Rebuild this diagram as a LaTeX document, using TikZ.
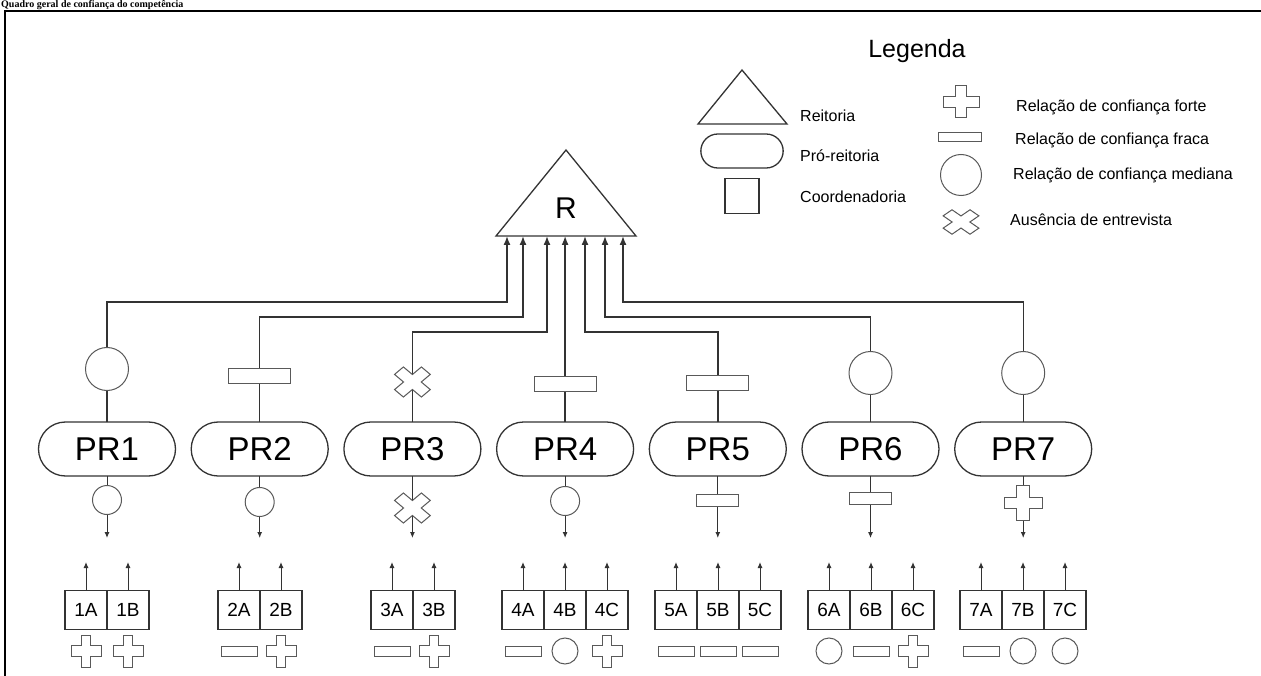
\documentclass[tikz,border=0pt]{standalone}
\usepackage{fontspec}
\setmainfont{Liberation Sans}
\newfontfamily\titlefont{Liberation Serif}
\usetikzlibrary{calc, positioning, shapes.misc, arrows.meta}

\tikzset{
    link/.style={draw=black!80, line width=1.4pt},
    bigup/.style={link, -{Latex[length=9pt, width=7pt]}},
    tinyarrow/.style={link, line width=1pt, -{Latex[length=6pt, width=5pt]}},
    shp/.style={draw=black!80, line width=1.3pt, fill=white},
    symb/.style={draw=black!65, line width=1pt, fill=white, inner sep=0pt, outer sep=0pt},
    pro/.style={shp, rounded rectangle, minimum width=137pt, minimum height=54pt,
        inner sep=0pt, outer sep=0pt, text height=23.6pt, text depth=0pt,
        font=\fontsize{33}{35}\selectfont},
    cell/.style={shp, minimum width=42pt, minimum height=39pt, inner sep=0pt,
        outer sep=0pt, text height=13.6pt, text depth=0pt, font=\fontsize{19}{22}\selectfont},
    med/.style={symb, circle, minimum size=#1},
    fraca/.style 2 args={symb, rectangle, minimum width=#1, minimum height=#2},
    lgtext/.style={anchor=west, inner sep=0pt, font=\fontsize{16}{19}\selectfont},
    forte/.pic={\draw[black!65, line width=1pt, fill=white]
        (-.33,1) -- (.33,1) -- (.33,.33) -- (1,.33) -- (1,-.33) -- (.33,-.33)
        -- (.33,-1) -- (-.33,-1) -- (-.33,-.33) -- (-1,-.33) -- (-1,.33) -- (-.33,.33) -- cycle;},
}

\begin{document}
\begin{tikzpicture}[x=1pt, y=-1pt]
    \useasboundingbox (0,0) rectangle (1261,676);

    % frame and title
    \draw[line width=1.8pt] (5,676) -- (5,11) -- (1261,11);
    \node[anchor=base west, inner sep=0pt, font=\titlefont\bfseries\fontsize{10}{12}\selectfont]
        (title) at (1,8) {Quadro geral de confiança do competência};

    % reitoria
    \draw[shp] (496,236) -- (566,150) -- (636,236) -- cycle;
    \node[font=\fontsize{30}{34}\selectfont] (R) at (566,208) {R};
    \coordinate (r1) at (507,236);
    \coordinate (r2) at (523,236);
    \coordinate (r3) at (547,236);
    \coordinate (r4) at (566,236);
    \coordinate (r5) at (585,236);
    \coordinate (r6) at (605,236);
    \coordinate (r7) at (623,236);

    % pro-reitorias
    \node[pro] (PR1) at (107,449) {PR1};
    \node[pro, right=15.7pt of PR1] (PR2) {PR2};
    \node[pro, right=15.7pt of PR2] (PR3) {PR3};
    \node[pro, right=15.7pt of PR3] (PR4) {PR4};
    \node[pro, right=15.7pt of PR4] (PR5) {PR5};
    \node[pro, right=15.7pt of PR5] (PR6) {PR6};
    \node[pro, right=15.7pt of PR6] (PR7) {PR7};

    \draw[bigup] (PR1.north) |- (r1 |- 0,302) -- (r1);
    \draw[bigup] (PR2.north) |- (r2 |- 0,317) -- (r2);
    \draw[bigup] (PR3.north) |- (r3 |- 0,332) -- (r3);
    \draw[bigup] (PR4.north) -- (PR4.north |- r4);
    \draw[bigup] (PR5.north) |- (r5 |- 0,332) -- (r5);
    \draw[bigup] (PR6.north) |- (r6 |- 0,317) -- (r6);
    \draw[bigup] (PR7.north) |- (r7 |- 0,302) -- (r7);

    \node[med=43pt] (u1) at (PR1.north |- 0,369) {};
    \node[fraca={62pt}{15pt}] (u2) at (PR2.north |- 0,376) {};
    \pic[xscale=19, yscale=16, rotate=45] at (PR3.north |- 0,382) {forte};
    \node[fraca={62pt}{15pt}] (u4) at (PR4.north |- 0,384) {};
    \node[fraca={62pt}{15pt}] (u5) at (PR5.north |- 0,383) {};
    \node[med=43pt] (u6) at (PR6.north |- 0,373) {};
    \node[med=43pt] (u7) at (PR7.north |- 0,373) {};

    % towards the coordenadorias
    \coordinate (dn) at (0,538);
    \foreach \p in {PR1,PR2,PR3,PR4,PR5,PR6,PR7}
        \draw[tinyarrow] (\p.south) -- (\p.south |- dn);
    \node[med=29pt] (d1) at (PR1.south |- 0,500) {};
    \node[med=29pt] (d2) at (PR2.south |- 0,502) {};
    \pic[xscale=19, yscale=16, rotate=45] at (PR3.south |- 0,508) {forte};
    \node[med=29pt] (d4) at (PR4.south |- 0,501) {};
    \node[fraca={42pt}{12pt}] (d5) at (PR5.south |- 0,500) {};
    \node[fraca={42pt}{12pt}] (d6) at (PR6.south |- 0,498) {};
    \pic[xscale=19, yscale=17.5] at (PR7.south |- 0,503) {forte};

    % coordenadorias
    \node[cell] (c1A) at (86,610) {1A};
    \node[cell, right=0pt of c1A] (c1B) {1B};
    \node[cell] (c2A) at (239,610) {2A};
    \node[cell, right=0pt of c2A] (c2B) {2B};
    \node[cell] (c3A) at (392,610) {3A};
    \node[cell, right=0pt of c3A] (c3B) {3B};
    \node[cell] (c4A) at (523,610) {4A};
    \node[cell, right=0pt of c4A] (c4B) {4B};
    \node[cell, right=0pt of c4B] (c4C) {4C};
    \node[cell] (c5A) at (676,610) {5A};
    \node[cell, right=0pt of c5A] (c5B) {5B};
    \node[cell, right=0pt of c5B] (c5C) {5C};
    \node[cell] (c6A) at (829,610) {6A};
    \node[cell, right=0pt of c6A] (c6B) {6B};
    \node[cell, right=0pt of c6B] (c6C) {6C};
    \node[cell] (c7A) at (981,610) {7A};
    \node[cell, right=0pt of c7A] (c7B) {7B};
    \node[cell, right=0pt of c7B] (c7C) {7C};

    \coordinate (up) at (0,562);
    \foreach \c in {c1A,c1B,c2A,c2B,c3A,c3B,c4A,c4B,c4C,c5A,c5B,c5C,c6A,c6B,c6C,c7A,c7B,c7C}
        \draw[tinyarrow] (\c.north) -- (\c.north |- up);

    \foreach \c in {c1A,c1B,c2B,c3B,c4C,c6C}
        \pic[xscale=15, yscale=16] at (\c.south |- 0,651) {forte};
    \foreach \c in {c2A,c3A,c4A,c5A,c5B,c5C,c6B,c7A}
        \node[fraca={36pt}{10pt}] (\c-s) at (\c.south |- 0,651) {};
    \foreach \c in {c4B,c6A,c7B,c7C}
        \node[med=26pt] (\c-s) at (\c.south |- 0,651) {};

    % legenda
    \node[font=\fontsize{25}{28}\selectfont] (legenda) at (917,51) {Legenda};
    \draw[shp] (698,124) -- (742,70) -- (787,124) -- cycle;
    \node[shp, rounded rectangle, minimum width=89pt, minimum height=34pt] (lgPR) at (742,151) {};
    \node[shp, minimum width=34pt, minimum height=35pt] (lgC) at (742,196) {};
    \node[lgtext] (tR) at (800,116) {Reitoria};
    \node[lgtext] (tPR) at (800,156) {Pró-reitoria};
    \node[lgtext] (tC) at (800,197) {Coordenadoria};

    \pic[xscale=18, yscale=16] at (961,102) {forte};
    \node[fraca={43pt}{9pt}] (lgfraca) at (960,137) {};
    \node[med=41pt] (lgmed) at (961,175) {};
    \pic[xscale=19, yscale=13, rotate=45] at (961,222) {forte};
    \node[lgtext] (tforte) at (1016,107) {Relação de confiança forte};
    \node[lgtext] (tfraca) at (1015,140) {Relação de confiança fraca};
    \node[lgtext] (tmed) at (1013,175) {Relação de confiança mediana};
    \node[lgtext] (taus) at (1010,220) {Ausência de entrevista};
\end{tikzpicture}
\end{document}
